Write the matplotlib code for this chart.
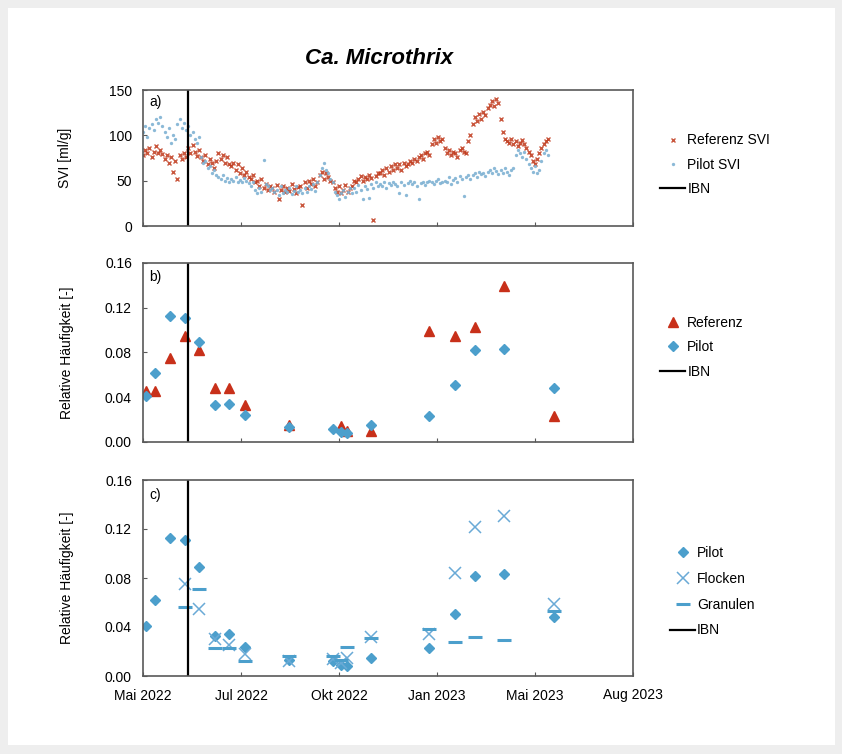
import matplotlib.pyplot as plt
import numpy as np
import pandas as pd
from matplotlib.patches import Rectangle

plt.rcParams['font.family'] = ['Liberation Sans', 'DejaVu Sans']

# --- SVI, measured every second day starting 2022-05-01 ---
ref_svi = [78, 84, 80, 86, 76, 82, 88, 80, 84, 79,
           74, 78, 70, 76, 60, 72, 52, 78, 74, 80, 76,
           86, 80, 89, 82, 77, 84,
           76, 72, 78, 68, 74, 70, 64, 72,
           80, 74, 78, 70, 76, 68,
           66, 70, 62, 68, 58, 64, 56, 60, 54,
           52, 56, 48, 50, 44, 52, 42, 46, 40, 44,
           42, 38, 45, 30, 40, 44, 37, 42, 39, 46, 41, 36, 43,
           44, 23, 48, 42, 50, 46, 52, 44, 49,
           56, 60, 52, 58, 54, 50, 48,
           42, 38, 44, 36, 40, 45, 38, 42, 44,
           50, 48, 52, 55, 50, 54, 52, 56, 53, 7, 55, 58,
           58, 62, 56, 64, 60, 66, 62, 68,
           64, 68, 62, 70, 66, 68, 72,
           70, 74, 72, 76, 78, 74, 80, 82, 78,
           90, 96, 92, 98, 94, 96,
           86, 80, 84, 78, 82, 80, 76, 84, 86, 82, 80,
           94, 100,
           112, 120, 116, 124, 118, 126, 122,
           130, 134, 138, 132, 140, 136,
           118, 104, 96,
           94, 92, 96, 90, 94, 88, 92, 95, 90, 86,
           82, 78, 72, 68, 74, 80,
           86, 90, 94, 96]
pilot_svi = [104, 110, 98, 108, 112, 106, 118, 114, 120, 110,
             104, 98, 108, 92, 100, 96, 112, 118, 108, 114, 106,
             110, 100, 104, 96, 92, 98,
             76, 70, 72, 64, 66, 58, 62, 56,
             54, 52, 56, 50, 53, 48,
             52, 50, 54, 48, 51, 49, 53, 50, 47,
             44, 48, 40, 36, 42, 38, 73, 46, 44, 40,
             42, 38, 40, 34, 44, 36, 40, 38, 42, 35, 39, 44, 37,
             40, 36, 42, 38, 44, 41, 46, 39, 48,
             56, 64, 70, 62, 58, 52, 48,
             38, 34, 30, 36, 40, 32, 38, 42, 36,
             42, 38, 45, 40, 30, 44, 41, 31, 46, 42, 48, 44,
             46, 44, 48, 42, 47, 45, 49, 46,
             44, 36, 48, 45, 34, 47, 50,
             46, 48, 44, 30, 47, 49, 45, 48, 50,
             48, 46, 50, 52, 47, 49,
             50, 48, 54, 46, 51, 53, 49, 55, 52, 33, 54,
             56, 52,
             56, 58, 54, 60, 57, 59, 55,
             60, 62, 58, 64, 61, 57,
             62, 58, 64,
             60, 56, 62, 64, 78, 84, 80, 76, 82, 74,
             68, 64, 60, 66, 58, 62,
             72, 80, 84, 78]
svi_dates = pd.date_range("2022-05-01", periods=len(ref_svi), freq="2D")

# --- sequencing samples ---
sample_dates = pd.to_datetime([
    "2022-05-04", "2022-05-12", "2022-05-26", "2022-06-09", "2022-06-22",
    "2022-07-07", "2022-07-20", "2022-08-04", "2022-09-14", "2022-10-24",
    "2022-11-01", "2022-11-06", "2022-11-29", "2023-01-22", "2023-02-15",
    "2023-03-05", "2023-04-01", "2023-05-18"])
ref_rel = [0.046, 0.046, 0.075, 0.095, 0.082, 0.048, 0.048, 0.033, 0.015,
           np.nan, 0.014, 0.010, 0.010, 0.099, 0.095, 0.103, 0.139, 0.023]
pilot_rel = [0.041, 0.062, 0.113, 0.111, 0.089, 0.033, 0.034, 0.024, 0.013,
             0.012, 0.009, 0.008, 0.015, 0.023, 0.051, 0.082, 0.083, 0.048]
flocken_rel = [np.nan, np.nan, np.nan, 0.075, 0.055, 0.030, 0.025, 0.018, 0.012,
               0.014, 0.011, 0.015, 0.032, 0.034, 0.084, 0.122, 0.131, 0.059]
granulen_rel = [np.nan, np.nan, np.nan, 0.056, 0.071, 0.023, 0.023, 0.012, 0.016,
                0.016, 0.013, 0.024, 0.031, 0.038, 0.028, 0.032, 0.029, 0.053]

ibn_date = pd.Timestamp("2022-06-12")

tick_dates = pd.to_datetime(["2022-05-01", "2022-07-31", "2022-10-30",
                             "2023-01-29", "2023-04-30", "2023-07-30"])
tick_labels = ["Mai 2022", "Jul 2022", "Okt 2022", "Jan 2023", "Mai 2023", "Aug 2023"]

RED = "#C0391B"
BLUE = "#4C9FCC"
LIGHTBLUE = "#7FB2D3"
FRAME = "#595959"

fig = plt.figure(figsize=(8.42, 7.54), dpi=100)
fig.patch.set_facecolor("#EEEEEE")
fig.add_artist(Rectangle((0.010, 0.012), 0.982, 0.978, transform=fig.transFigure,
                         facecolor="white", edgecolor="none", zorder=-10))

x0, w = 143 / 842, 490 / 842
ax_a = fig.add_axes([x0, 1 - 226 / 754, w, 136 / 754])
ax_b = fig.add_axes([x0, 1 - 442 / 754, w, 179 / 754])
ax_c = fig.add_axes([x0, 1 - 676 / 754, w, 196 / 754])

fig.text(379 / 842, 1 - 58 / 754, "Ca. Microthrix", ha="center", va="center",
         fontsize=16, fontweight="bold", fontstyle="italic")

# a) SVI
ax_a.plot(svi_dates, ref_svi, ls="none", marker="x", ms=3.3, mew=1.0,
          color=RED, alpha=0.85, label="Referenz SVI")
ax_a.plot(svi_dates, pilot_svi, ls="none", marker="o", ms=2.4, mew=0,
          color=LIGHTBLUE, alpha=0.9, label="Pilot SVI")
ax_a.axvline(ibn_date, color="black", lw=1.6, label="IBN")
ax_a.set_ylim(0, 150)
ax_a.set_yticks([0, 50, 100, 150])
ax_a.set_ylabel("SVI [ml/g]", fontsize=10)

# b) relative abundance reference vs pilot
ax_b.plot(sample_dates, ref_rel, ls="none", marker="^", ms=7, color="#C8301A",
          label="Referenz")
ax_b.plot(sample_dates, pilot_rel, ls="none", marker="D", ms=5.5, color=BLUE,
          label="Pilot")
ax_b.axvline(ibn_date, color="black", lw=1.6, label="IBN")
ax_b.set_ylim(0, 0.16)
ax_b.set_yticks(np.arange(0, 0.161, 0.04))
ax_b.yaxis.set_major_formatter(plt.FormatStrFormatter("%.2f"))
ax_b.set_ylabel("Relative Häufigkeit [-]", fontsize=10)

# c) pilot fractions
ax_c.plot(sample_dates, pilot_rel, ls="none", marker="D", ms=5.5, color=BLUE,
          label="Pilot")
ax_c.plot(sample_dates, flocken_rel, ls="none", marker="x", ms=8, mew=1.1,
          color="#6AAAD6", label="Flocken")
ax_c.plot(sample_dates, granulen_rel, ls="none", marker="_", ms=10, mew=2.2,
          color=BLUE, label="Granulen")
ax_c.axvline(ibn_date, color="black", lw=1.6, label="IBN")
ax_c.set_ylim(0, 0.16)
ax_c.set_yticks(np.arange(0, 0.161, 0.04))
ax_c.yaxis.set_major_formatter(plt.FormatStrFormatter("%.2f"))
ax_c.set_ylabel("Relative Häufigkeit [-]", fontsize=10)

for ax, lab in zip([ax_a, ax_b, ax_c], ["a)", "b)", "c)"]):
    ax.set_xlim(tick_dates[0], tick_dates[-1])
    ax.set_xticks(tick_dates)
    if ax is ax_c:
        ax.set_xticklabels(tick_labels, fontsize=10)
    else:
        ax.set_xticklabels([])
    ax.tick_params(axis="both", direction="in", length=3, color=FRAME, labelsize=10)
    ax.tick_params(axis="x", pad=9)
    ax.tick_params(axis="y", pad=8)
    for s in ax.spines.values():
        s.set_color(FRAME)
        s.set_linewidth(1.2)
    ax.text(0.012, 0.96, lab, transform=ax.transAxes, ha="left", va="top", fontsize=10)

leg_kw = dict(frameon=False, fontsize=10, handlelength=1.8, handletextpad=0.15,
              loc="center left")
ax_a.legend(bbox_to_anchor=(1.03, 0.45), labelspacing=0.75, **leg_kw)
ax_b.legend(bbox_to_anchor=(1.03, 0.53), labelspacing=0.75, **leg_kw)
ax_c.legend(bbox_to_anchor=(1.05, 0.43), labelspacing=0.85, **leg_kw)

ax_a.yaxis.set_label_coords(-0.145, 0.5)
ax_b.yaxis.set_label_coords(-0.14, 0.5)
ax_c.yaxis.set_label_coords(-0.14, 0.5)

fig.savefig("out.png", dpi=100)
